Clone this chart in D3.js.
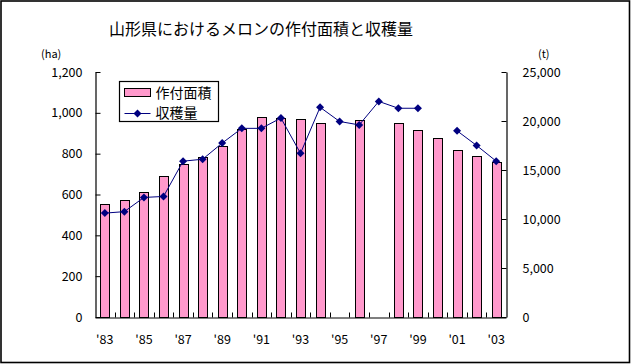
<!DOCTYPE html>
<html>
<head>
<meta charset="utf-8">
<script src="https://cdn.jsdelivr.net/npm/d3@7"></script>
<style>
  body { margin: 0; background: #fff; }
  text { font-family: "Noto Sans CJK JP", "Noto Sans", sans-serif; fill: #000; }
</style>
</head>
<body>
<div id="chart"></div>
<script>
// data
var years = [1983, 1984, 1985, 1986, 1987, 1988, 1989, 1990, 1991, 1992, 1993,
  1994, 1995, 1996, 1997, 1998, 1999, 2000, 2001, 2002, 2003];
// 作付面積 (ha), null = no bar
var area = [553, 572, 612, 690, 750, 783, 836, 920, 978, 976, 968,
  950, null, 963, null, 948, 914, 875, 816, 787, 759];
// 収穫量 (t), null = gap in line
var harvest = [10600, 10750, 12200, 12300, 15900, 16100, 17750, 19250, 19250, 20300, 16700,
  21400, 19950, 19600, 22000, 21300, 21300, null, 19000, 17500, 15900];
var leftTicks = [0, 200, 400, 600, 800, 1000, 1200];
var rightTicks = [0, 5000, 10000, 15000, 20000, 25000];
var xLabelYears = [1983, 1985, 1987, 1989, 1991, 1993, 1995, 1997, 1999, 2001, 2003];

var fullWidth = 631, fullHeight = 364;
var margin = {top: 72, right: 125, bottom: 47, left: 95};
var width = fullWidth - margin.left - margin.right;   // 411
var height = fullHeight - margin.top - margin.bottom; // 245

var svg = d3.select('#chart').append('svg')
  .attr('width', fullWidth)
  .attr('height', fullHeight);

// outer frame
svg.append('rect')
  .attr('x', 1).attr('y', 1)
  .attr('width', 628.5).attr('height', 361.5)
  .attr('fill', 'none').attr('stroke', '#000').attr('stroke-width', 1.6);

svg.append('text')
  .attr('x', 261).attr('y', 35)
  .attr('text-anchor', 'middle')
  .style('font-size', '16px')
  .text('山形県におけるメロンの作付面積と収穫量');

svg.append('text').attr('x', 41).attr('y', 58).style('font-size', '11px').text('(ha)');
svg.append('text').attr('x', 538).attr('y', 58).style('font-size', '11px').text('(t)');

var g = svg.append('g').attr('transform', `translate(${margin.left},${margin.top})`);

var xScale = d3.scaleBand().domain(years).range([0, width]);
var yLeft = d3.scaleLinear().domain([0, 1200]).range([height, 0]);
var yRight = d3.scaleLinear().domain([0, 25000]).range([height, 0]);

// bars
var barW = xScale.bandwidth() * 0.46;
g.selectAll('rect.bar')
  .data(years.map((y, i) => ({year: y, v: area[i]})).filter(d => d.v != null))
  .enter().append('rect')
  .attr('class', 'bar')
  .attr('x', d => Math.round(xScale(d.year) + xScale.bandwidth() / 2 - barW / 2) + 0.5)
  .attr('y', d => Math.round(yLeft(d.v)) + 0.5)
  .attr('width', Math.round(barW))
  .attr('height', d => height - Math.round(yLeft(d.v)))
  .attr('fill', '#FF99CC')
  .attr('stroke', '#000')
  .attr('stroke-width', 1);

// line
var line = d3.line()
  .defined(d => d.v != null)
  .x(d => xScale(d.year) + xScale.bandwidth() / 2)
  .y(d => yRight(d.v));
var lineData = years.map((y, i) => ({year: y, v: harvest[i]}));
g.append('path')
  .datum(lineData)
  .attr('d', line)
  .attr('fill', 'none')
  .attr('stroke', '#000080')
  .attr('stroke-width', 1);

var diamond = 'M0,-4L4,0L0,4L-4,0Z';
g.selectAll('path.marker')
  .data(lineData.filter(d => d.v != null))
  .enter().append('path')
  .attr('class', 'marker')
  .attr('d', diamond)
  .attr('transform', d => `translate(${xScale(d.year) + xScale.bandwidth() / 2},${yRight(d.v)})`)
  .attr('fill', '#000080');

// axes: ticks point inward
var leftAxis = d3.axisLeft(yLeft).tickValues(leftTicks).tickSizeInner(-5).tickSizeOuter(0)
  .tickPadding(13).tickFormat(d3.format(','));
var gl = g.append('g').attr('transform', 'translate(0.5,0)').call(leftAxis);
var rightAxis = d3.axisRight(yRight).tickValues(rightTicks).tickSizeInner(-5).tickSizeOuter(0)
  .tickPadding(16).tickFormat(d3.format(','));
var gr = g.append('g').attr('transform', `translate(${width + 0.5},0)`).call(rightAxis);

var xAxis = d3.axisBottom(xScale).tickValues([]).tickSizeOuter(0);
var gx = g.append('g').attr('transform', `translate(0,${height + 0.5})`).call(xAxis);
// category boundary ticks
gx.selectAll('line.bound')
  .data(years.slice(1))
  .enter().append('line')
  .attr('class', 'bound')
  .attr('x1', d => Math.round(xScale(d)) + 0.5)
  .attr('x2', d => Math.round(xScale(d)) + 0.5)
  .attr('y1', 0).attr('y2', -5)
  .attr('stroke', '#000');
gx.selectAll('text.yr')
  .data(xLabelYears)
  .enter().append('text')
  .attr('class', 'yr')
  .attr('x', d => xScale(d) + xScale.bandwidth() / 2)
  .attr('y', 26)
  .attr('text-anchor', 'middle')
  .style('font-size', '12.5px')
  .text(d => "'" + String(d).slice(2));

[gl, gr, gx].forEach(a => {
  a.selectAll('path.domain').attr('stroke', '#000').attr('stroke-width', 1.2);
  a.selectAll('.tick line').attr('stroke', '#000');
  a.selectAll('.tick text').style('font-size', '12.5px').style('font-family', '"Noto Sans CJK JP", sans-serif').attr('fill', '#000');
});

// legend
var lg = svg.append('g').attr('transform', 'translate(119.5,81.5)');
lg.append('rect').attr('width', 99).attr('height', 40)
  .attr('fill', '#fff').attr('stroke', '#000').attr('stroke-width', 1.2);
lg.append('rect').attr('x', 5).attr('y', 7).attr('width', 26).attr('height', 8)
  .attr('fill', '#FF99CC').attr('stroke', '#000');
lg.append('text').attr('x', 36).attr('y', 16.5).style('font-size', '14px').text('作付面積');
lg.append('line').attr('x1', 5).attr('x2', 31).attr('y1', 32).attr('y2', 32)
  .attr('stroke', '#000080');
lg.append('path').attr('d', diamond).attr('transform', 'translate(18,32)').attr('fill', '#000080');
lg.append('text').attr('x', 36).attr('y', 36.5).style('font-size', '14px').text('収穫量');
</script>
</body>
</html>
